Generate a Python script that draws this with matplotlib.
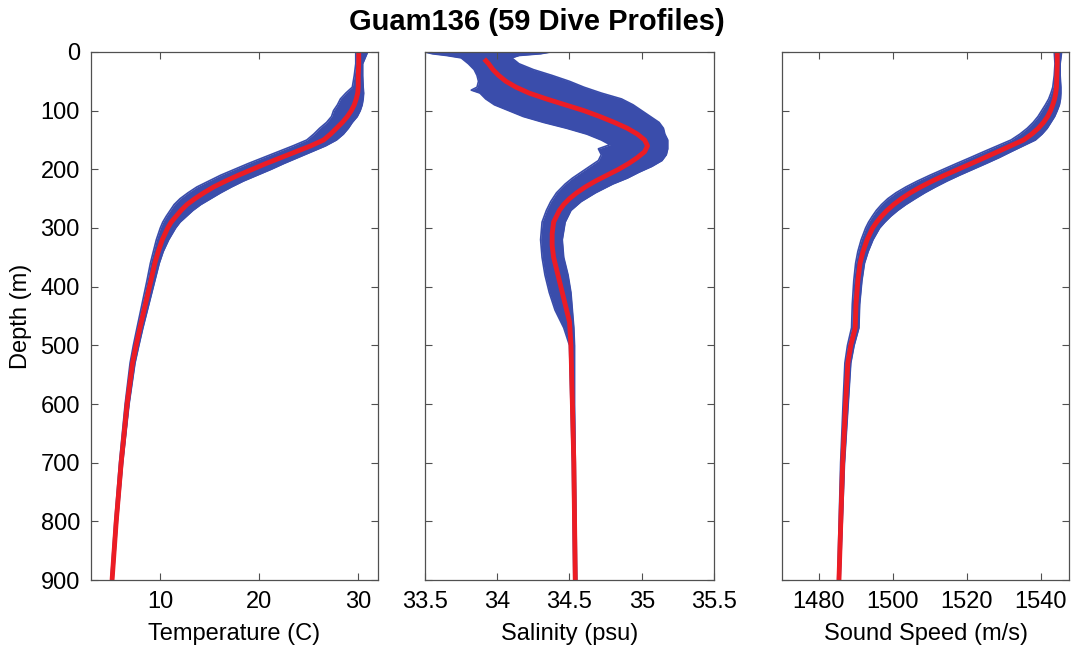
import numpy as np
import matplotlib.pyplot as plt

plt.rcParams['font.family'] = ['Liberation Sans', 'DejaVu Sans']

# ---- temperature (C) ----
temp_depth = [0, 20, 40, 60, 70, 80, 90, 100, 110, 120, 130, 140, 150, 160,
              170, 180, 190, 200, 210, 220, 230, 240, 250, 260, 270, 280, 290,
              300, 320, 340, 360, 390, 430, 470, 500, 530, 600, 700, 800, 900]
temp_mean = [30.05, 30.05, 30.0, 30.0, 29.95, 29.8, 29.6, 29.3, 28.9, 28.4,
             27.8, 27.2, 26.5, 25.2, 23.7, 22.2, 20.7, 19.3, 17.9, 16.6, 15.4,
             14.4, 13.5, 12.7, 12.1, 11.6, 11.1, 10.75, 10.2, 9.8, 9.45, 9.05,
             8.5, 7.95, 7.56, 7.2, 6.65, 6.05, 5.55, 5.13]
# spread of the 59 profiles below / above the mean
temp_spread_lo = [0.3, 0.3, 0.4, 0.6, 1.2, 1.6, 1.7, 1.8, 1.6, 1.6, 1.7, 1.7,
                  1.7, 1.8, 1.8, 1.8, 1.8, 1.8, 1.8, 1.7, 1.7, 1.6, 1.5, 1.3,
                  1.1, 1.0, 0.85, 0.75, 0.6, 0.5, 0.45, 0.4, 0.35, 0.3, 0.28,
                  0.25, 0.2, 0.17, 0.14, 0.12]
temp_spread_hi = [0.9, 0.4, 0.45, 0.5, 0.6, 0.7, 0.8, 0.9, 1.0, 1.0, 1.2, 1.3,
                  1.3, 1.5, 1.6, 1.7, 1.8, 1.9, 1.9, 1.8, 1.8, 1.7, 1.6, 1.4,
                  1.2, 1.05, 0.9, 0.8, 0.65, 0.5, 0.45, 0.4, 0.35, 0.3, 0.28,
                  0.25, 0.2, 0.15, 0.12, 0.1]

# ---- salinity (psu) ----
sal_band_depth = [0, 3, 6, 10, 20, 30, 40, 50, 60, 65, 70, 80, 90, 100, 110,
                  120, 130, 140, 150, 158, 165, 175, 185, 195, 205, 215, 225,
                  240, 255, 270, 290, 320, 350, 380, 410, 440, 470, 500, 600,
                  700, 800, 900]
sal_lo = [33.5, 33.55, 33.65, 33.75, 33.8, 33.84, 33.86, 33.87, 33.86, 33.82,
          33.88, 33.92, 33.98, 34.08, 34.18, 34.32, 34.48, 34.62, 34.72, 34.78,
          34.7, 34.72, 34.7, 34.64, 34.58, 34.52, 34.47, 34.41, 34.37, 34.34,
          34.31, 34.3, 34.31, 34.33, 34.36, 34.4, 34.46, 34.5, 34.51, 34.52,
          34.525, 34.53]
sal_hi = [34.37, 34.3, 34.15, 34.1, 34.15, 34.25, 34.38, 34.5, 34.6, 34.66,
          34.72, 34.86, 34.94, 35.0, 35.06, 35.12, 35.15, 35.16, 35.18, 35.18,
          35.18, 35.17, 35.14, 35.07, 34.98, 34.9, 34.8, 34.68, 34.58, 34.51,
          34.47, 34.45, 34.46, 34.49, 34.51, 34.52, 34.53, 34.535, 34.535,
          34.54, 34.545, 34.55]
sal_depth = [12, 20, 30, 40, 50, 60, 70, 80, 90, 100, 110, 120, 130, 140, 150,
             160, 170, 180, 190, 200, 210, 220, 230, 240, 250, 260, 270, 280,
             290, 310, 330, 350, 380, 420, 460, 500, 600, 700, 800, 900]
sal_mean = [33.91, 33.94, 33.97, 34.01, 34.06, 34.13, 34.22, 34.34, 34.47,
            34.6, 34.71, 34.81, 34.9, 34.97, 35.02, 35.04, 35.02, 34.97, 34.91,
            34.84, 34.76, 34.68, 34.61, 34.55, 34.5, 34.46, 34.43, 34.41, 34.39,
            34.38, 34.38, 34.39, 34.42, 34.46, 34.5, 34.51, 34.52, 34.53,
            34.535, 34.54]

# ---- sound speed (m/s) ----
ss_depth = [0, 20, 40, 60, 70, 80, 90, 100, 110, 120, 130, 140, 150, 160, 170,
            180, 190, 200, 210, 220, 230, 240, 250, 260, 270, 280, 290, 300,
            320, 340, 360, 390, 430, 470, 500, 530, 600, 700, 800, 900]
ss_mean = [1544.4, 1544.4, 1544.3, 1544.2, 1544.0, 1543.7, 1543.2, 1542.6,
           1541.8, 1540.7, 1539.3, 1537.5, 1535.3, 1531.8, 1528.3, 1524.8,
           1521.2, 1517.6, 1514.0, 1510.6, 1507.5, 1504.7, 1502.3, 1500.2,
           1498.4, 1496.9, 1495.6, 1494.5, 1493.0, 1491.9, 1491.1, 1490.5,
           1490.0, 1489.8, 1488.6, 1487.8, 1487.2, 1486.4, 1485.9, 1485.4]
ss_spread_lo = [0.8, 0.6, 0.7, 1.0, 1.3, 1.6, 2.0, 2.4, 2.6, 2.8, 3.0, 3.2,
                3.4, 3.6, 3.8, 3.9, 4.0, 4.0, 4.0, 4.0, 4.0, 3.9, 3.7, 3.3,
                2.9, 2.5, 2.2, 1.9, 1.6, 1.4, 1.2, 1.1, 1.0, 1.0, 0.9, 0.8,
                0.7, 0.55, 0.45, 0.35]
ss_spread_hi = [1.2, 0.8, 0.9, 1.2, 1.4, 1.6, 1.8, 1.8, 1.9, 2.0, 2.4, 2.8,
                3.2, 3.4, 3.6, 3.9, 4.0, 4.0, 4.0, 4.0, 4.0, 3.9, 3.7, 3.3,
                2.9, 2.5, 2.2, 1.9, 1.6, 1.4, 1.2, 1.1, 1.0, 1.0, 0.9, 0.8,
                0.7, 0.5, 0.4, 0.3]

depth_ticks = [0, 100, 200, 300, 400, 500, 600, 700, 800, 900]
blue = '#3a4dab'
red = '#ec1c24'
spine_col = '#505050'

temp_lo = np.array(temp_mean) - np.array(temp_spread_lo)
temp_hi = np.array(temp_mean) + np.array(temp_spread_hi)
ss_lo = np.array(ss_mean) - np.array(ss_spread_lo)
ss_hi = np.array(ss_mean) + np.array(ss_spread_hi)

fig = plt.figure(figsize=(10.73, 6.49), dpi=100)
boxes = [[0.0848, 0.1063, 0.2675, 0.8136],
         [0.3961, 0.1063, 0.2693, 0.8136],
         [0.7288, 0.1063, 0.2675, 0.8136]]

panels = [
    (temp_depth, temp_lo, temp_hi, temp_depth, temp_mean,
     (3, 32), [10, 20, 30], ['10', '20', '30'], 'Temperature (C)'),
    (sal_band_depth, sal_lo, sal_hi, sal_depth, sal_mean,
     (33.5, 35.5), [33.5, 34, 34.5, 35, 35.5],
     ['33.5', '34', '34.5', '35', '35.5'], 'Salinity (psu)'),
    (ss_depth, ss_lo, ss_hi, ss_depth, ss_mean,
     (1470, 1547.6), [1480, 1500, 1520, 1540],
     ['1480', '1500', '1520', '1540'], 'Sound Speed (m/s)'),
]

for k, (bd, lo, hi, md, mean, xlim, xt, xtl, xlabel) in enumerate(panels):
    ax = fig.add_axes(boxes[k])
    ax.fill_betweenx(bd, lo, hi, color=blue, lw=0)
    ax.plot(lo, bd, color=blue, lw=1.2)
    ax.plot(hi, bd, color=blue, lw=1.2)
    ax.plot(mean, md, color=red, lw=3.5, solid_capstyle='butt')

    ax.set_xlim(xlim)
    ax.set_ylim(900, 0)
    ax.set_xticks(xt)
    ax.set_xticklabels(xtl)
    ax.set_yticks(depth_ticks)
    if k == 0:
        ax.set_ylabel('Depth (m)', fontsize=17, labelpad=6)
    else:
        ax.set_yticklabels([])
    ax.set_xlabel(xlabel, fontsize=17, labelpad=7)
    ax.tick_params(direction='in', top=True, right=True, length=5,
                   width=0.8, color=spine_col, labelsize=17, pad=8)
    for s in ax.spines.values():
        s.set_color(spine_col)
        s.set_linewidth(0.9)

fig.text(0.5, 0.966, 'Guam136 (59 Dive Profiles)', ha='center', va='center',
         fontsize=21, fontweight='bold')

plt.savefig('out.png', dpi=100)
